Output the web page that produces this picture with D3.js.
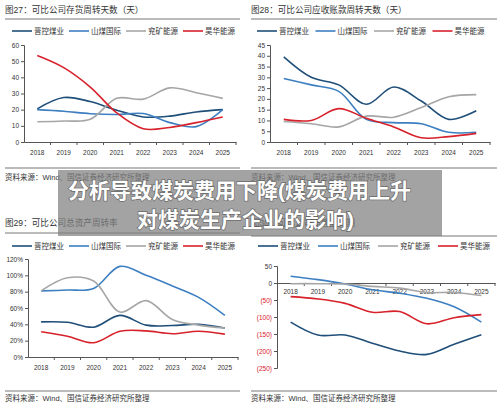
<!DOCTYPE html>
<html>
<head>
<meta charset="utf-8">
<script src="https://cdn.jsdelivr.net/npm/d3@7"></script>
<style>
  body { margin: 0; background: #fff; }
  text { font-family: "Liberation Sans", "Noto Sans CJK SC", sans-serif; }
</style>
</head>
<body>
<div id="chart"></div>
<script>
// data
const years = ['2018', '2019', '2020', '2021', '2022', '2023', '2024', '2025'];
const companies = ['晋控煤业', '山煤国际', '兖矿能源', '昊华能源'];
const colors = ['#1f4e79', '#3d7fc1', '#a6a6a6', '#d7212b'];

// 存货周转天数 (天)
const inventoryDays = [
  [20.5, 27.5, 25, 19.7, 15.5, 16, 18.6, 20],
  [20, 19, 17.5, 17, 17.6, 12, 9.5, 20],
  [12.5, 13, 14, 27, 26.5, 33.5, 30.5, 27],
  [53.5, 46, 34, 18, 8.2, 9, 12, 15.5]
];
// 应收账款周转天数 (天)
const receivableDays = [
  [39.5, 30, 26.5, 17.5, 25.5, 19, 10.5, 14.5],
  [29.5, 26.5, 23.5, 10.5, 9, 8.5, 4.5, 4.5],
  [9.5, 8.5, 7, 12, 11.5, 16, 21, 22],
  [10.5, 10, 15.5, 11, 7, 2, 2.5, 4]
];
// 总资产周转率
const assetTurnover = [
  [0.43, 0.425, 0.365, 0.51, 0.39, 0.385, 0.40, 0.355],
  [0.81, 0.82, 0.84, 1.11, 1.00, 0.87, 0.73, 0.51],
  [0.81, 0.97, 0.93, 0.55, 0.69, 0.46, 0.39, 0.355],
  [0.31, 0.255, 0.175, 0.315, 0.32, 0.285, 0.315, 0.28]
];
// 净营业周期
const netCycle = [
  [-115, -153, -153, -177, -200, -210, -180, -152],
  [20, 10, -3, -20, -30, -45, -70, -115],
  [-2, -2, -3, -10, -15, -28, -28, -37],
  [-40, -47, -60, -86, -84, -120, -102, -93]
];

const footer = '资料来源：Wind、国信证券经济研究所整理';

const svg = d3.select('#chart').append('svg')
  .attr('width', 500)
  .attr('height', 408);

function panel(cfg) {
  const g = svg.append('g');

  g.append('text')
    .attr('x', cfg.left).attr('y', cfg.titleY)
    .attr('font-size', 8.6).attr('fill', '#333')
    .text(cfg.title);
  g.append('line')
    .attr('x1', cfg.left).attr('x2', cfg.right)
    .attr('y1', cfg.lineY).attr('y2', cfg.lineY)
    .attr('stroke', '#777').attr('stroke-width', 1);

  // legend
  companies.forEach((c, i) => {
    const lx = cfg.legX + i * cfg.legStep;
    g.append('line')
      .attr('x1', lx).attr('x2', lx + 20)
      .attr('y1', cfg.legY).attr('y2', cfg.legY)
      .attr('stroke', colors[i]).attr('stroke-width', 1.6);
    g.append('text')
      .attr('x', lx + 22).attr('y', cfg.legY + 2.8)
      .attr('font-size', 7.5).attr('fill', '#333')
      .text(c);
  });

  const x = d3.scaleBand().domain(years).range([cfg.x0, cfg.x1]);
  const y = d3.scaleLinear().domain(cfg.domain).range([cfg.yBottom, cfg.yTop]);

  // y axis
  const ya = g.append('g')
    .attr('transform', `translate(${cfg.x0},0)`)
    .call(d3.axisLeft(y).tickValues(cfg.ticks).tickSize(3).tickPadding(2).tickFormat(cfg.fmt));
  ya.select('.domain').attr('stroke', '#555');
  ya.selectAll('.tick line').attr('stroke', '#555');
  ya.selectAll('.tick text')
    .attr('font-size', 6.5)
    .attr('font-family', '"Liberation Sans", sans-serif')
    .attr('fill', d => (cfg.negRed && d < 0) ? '#d7212b' : '#333');

  // x axis
  const baseY = y(cfg.base);
  const xa = g.append('g')
    .attr('transform', `translate(0,${baseY})`)
    .call(d3.axisBottom(x).tickSize(0).tickPadding(cfg.xPad));
  xa.select('.domain').attr('stroke', '#555');
  xa.selectAll('.tick text')
    .attr('font-size', 6.5)
    .attr('font-family', '"Liberation Sans", sans-serif')
    .attr('fill', '#333');
  g.selectAll(null)
    .data(years.slice(1).concat(['end']))
    .join('line')
      .attr('x1', d => d === 'end' ? cfg.x1 : x(d))
      .attr('x2', d => d === 'end' ? cfg.x1 : x(d))
      .attr('y1', baseY).attr('y2', baseY + 3)
      .attr('stroke', '#555');

  // series
  const line = d3.line()
    .x((d, i) => x(years[i]) + x.bandwidth() / 2)
    .y(d => y(d))
    .curve(d3.curveCatmullRom.alpha(0.5));
  cfg.data.forEach((s, i) => {
    g.append('path')
      .attr('d', line(s))
      .attr('fill', 'none')
      .attr('stroke', colors[i])
      .attr('stroke-width', 1.6);
  });

  // footer
  g.append('line')
    .attr('x1', cfg.left).attr('x2', cfg.right)
    .attr('y1', cfg.footLineY).attr('y2', cfg.footLineY)
    .attr('stroke', '#777').attr('stroke-width', 1);
  g.append('text')
    .attr('x', cfg.left).attr('y', cfg.footY)
    .attr('font-size', 7.5).attr('fill', '#333')
    .text(footer);
}

panel({
  title: '图27：可比公司存货周转天数（天）', left: 5, right: 240,
  titleY: 13, lineY: 19, legX: 12, legStep: 57, legY: 31,
  x0: 24, x1: 236, yTop: 45, yBottom: 142,
  domain: [0, 60], ticks: d3.range(0, 61, 10), fmt: d3.format('d'), base: 0, xPad: 8,
  data: inventoryDays, footLineY: 168, footY: 180
});
panel({
  title: '图28：可比公司应收账款周转天数（天）', left: 251, right: 497,
  titleY: 13, lineY: 19, legX: 257, legStep: 58.5, legY: 31,
  x0: 270, x1: 490, yTop: 45, yBottom: 142,
  domain: [0, 45], ticks: d3.range(0, 46, 5), fmt: d3.format('d'), base: 0, xPad: 8,
  data: receivableDays, footLineY: 168, footY: 180
});
panel({
  title: '图29：可比公司总资产周转率', left: 5, right: 240,
  titleY: 226, lineY: 233, legX: 12, legStep: 57, legY: 246,
  x0: 28, x1: 238, yTop: 259, yBottom: 357,
  domain: [0, 1.2], ticks: d3.range(0, 1.21, 0.2), fmt: d3.format('.0%'), base: 0, xPad: 8,
  data: assetTurnover, footLineY: 391, footY: 401
});
panel({
  title: '图30：可比公司净营业周期', left: 251, right: 497,
  titleY: 226, lineY: 236, legX: 258, legStep: 60, legY: 246,
  x0: 277, x1: 495, yTop: 266, yBottom: 368,
  domain: [-250, 50], ticks: d3.range(-250, 51, 50),
  fmt: d => d < 0 ? `(${-d})` : d, negRed: true, base: 0, xPad: 6,
  data: netCycle, footLineY: 391, footY: 401
});

// overlay caption
svg.append('rect')
  .attr('x', 58).attr('y', 170)
  .attr('width', 384).attr('height', 66)
  .attr('fill', '#808080').attr('opacity', 0.72);

const caption = [
  { t: '分析导致煤炭费用下降(煤炭费用上升', x: 68, y: 198 },
  { t: '对煤炭生产企业的影响)', x: 137, y: 227 }
];
svg.selectAll('.cap')
  .data(caption)
  .join('text')
    .attr('class', 'cap')
    .attr('x', d => d.x).attr('y', d => d.y)
    .attr('font-size', 21)
    .attr('font-weight', 'bold')
    .attr('font-family', '"Noto Sans CJK SC", sans-serif')
    .attr('fill', '#fff')
    .attr('stroke', 'rgba(60,60,60,0.55)')
    .attr('stroke-width', 1.5)
    .attr('paint-order', 'stroke')
    .text(d => d.t);
</script>
</body>
</html>
